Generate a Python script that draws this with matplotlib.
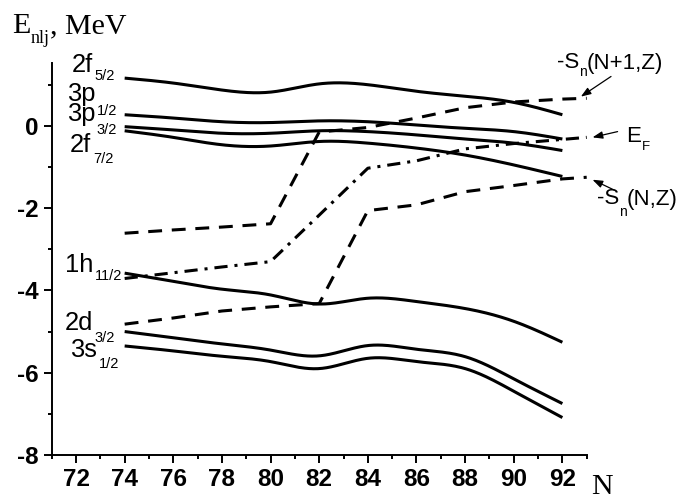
import numpy as np
import matplotlib
matplotlib.use("Agg")
import matplotlib.pyplot as plt

plt.rcParams["axes.unicode_minus"] = False
plt.rcParams["lines.scale_dashes"] = False

SANS = "Liberation Sans"
SERIF = "Liberation Serif"

# ---- single-particle levels (MeV) at even neutron numbers ----
N_levels = [74, 76, 78, 80, 82, 84, 86, 88, 90, 92]
e_2f52 = [1.16, 1.04, 0.87, 0.82, 1.02, 1.00, 0.84, 0.72, 0.57, 0.27]
e_3p12 = [0.27, 0.19, 0.10, 0.08, 0.12, 0.10, 0.02, -0.06, -0.14, -0.32]
e_3p32 = [-0.02, -0.10, -0.18, -0.18, -0.12, -0.14, -0.22, -0.32, -0.42, -0.60]
e_2f72 = [-0.12, -0.28, -0.46, -0.49, -0.38, -0.42, -0.54, -0.71, -0.95, -1.23]
e_1h112 = [-3.58, -3.78, -3.97, -4.11, -4.33, -4.19, -4.27, -4.44, -4.75, -5.26]
e_2d32 = [-5.00, -5.15, -5.30, -5.45, -5.59, -5.34, -5.43, -5.61, -6.15, -6.75]
e_3s12 = [-5.35, -5.47, -5.60, -5.73, -5.90, -5.65, -5.73, -5.90, -6.45, -7.09]

# ---- separation energies and Fermi energy ----
N_sep = [74, 76, 78, 80, 82, 84, 86, 88, 90, 92, 93]
sn_next = [-2.61, -2.53, -2.46, -2.38, -0.15, -0.04, 0.19, 0.44, 0.58, 0.65, 0.67]
e_fermi = [-3.71, -3.57, -3.43, -3.30, -2.17, -1.03, -0.85, -0.56, -0.43, -0.33, -0.28]
sn_this = [-4.82, -4.67, -4.50, -4.40, -4.32, -2.06, -1.92, -1.60, -1.45, -1.29, -1.25]

x_ticks = [72, 74, 76, 78, 80, 82, 84, 86, 88, 90, 92]
y_ticks = [-8, -6, -4, -2, 0]


def natural_spline(x, y, n=300):
    x = np.asarray(x, float)
    y = np.asarray(y, float)
    h = np.diff(x)
    m = len(x)
    A = np.zeros((m, m))
    r = np.zeros(m)
    A[0, 0] = A[-1, -1] = 1.0
    for i in range(1, m - 1):
        A[i, i - 1] = h[i - 1]
        A[i, i] = 2 * (h[i - 1] + h[i])
        A[i, i + 1] = h[i]
        r[i] = 3 * ((y[i + 1] - y[i]) / h[i] - (y[i] - y[i - 1]) / h[i - 1])
    c = np.linalg.solve(A, r)
    b = (y[1:] - y[:-1]) / h - h * (2 * c[:-1] + c[1:]) / 3
    d = (c[1:] - c[:-1]) / (3 * h)
    xs = np.linspace(x[0], x[-1], n)
    idx = np.clip(np.searchsorted(x, xs) - 1, 0, m - 2)
    dx = xs - x[idx]
    ys = y[idx] + b[idx] * dx + c[idx] * dx ** 2 + d[idx] * dx ** 3
    return xs, ys


W, H = 692, 499
fig = plt.figure(figsize=(W / 100, H / 100), dpi=100)
ax = fig.add_axes([51.7 / W, 1 - 455 / H, (586.7 - 51.7) / W, (455 - 63.3) / H])

lw = 2.2
for e in (e_2f52, e_3p12, e_3p32, e_2f72, e_1h112, e_2d32, e_3s12):
    xs, ys = natural_spline(N_levels, e)
    ax.plot(xs, ys, color="black", lw=lw, solid_capstyle="butt", clip_on=False)

dash = (0, (10, 7))
dashdot = (0, (9.5, 5, 2.2, 5))
ax.plot(N_sep, sn_next, color="black", lw=lw, linestyle=dash, clip_on=False)
ax.plot(N_sep, e_fermi, color="black", lw=lw, linestyle=dashdot, clip_on=False)
ax.plot(N_sep, sn_this, color="black", lw=lw, linestyle=dash, clip_on=False)

ax.set_xlim(71, 93)
ax.set_ylim(-8, 1.52)
for s in ("top", "right"):
    ax.spines[s].set_visible(False)
for s in ("left", "bottom"):
    ax.spines[s].set_linewidth(1.4)

ax.set_xticks(x_ticks)
ax.set_xticklabels([str(v) for v in x_ticks])
ax.set_xticks(np.arange(71, 94, 2), minor=True)
ax.set_yticks(y_ticks)
ax.set_yticklabels([str(v) for v in y_ticks])
ax.set_yticks([-7, -5, -3, -1, 1], minor=True)
ax.tick_params(which="major", direction="out", length=6, width=1.4, pad=3.5)
ax.tick_params(which="minor", direction="out", length=3, width=1.4)
for lab in ax.get_xticklabels() + ax.get_yticklabels():
    lab.set_fontfamily(SANS)
    lab.set_fontweight("bold")
    lab.set_fontsize(17.5)

renderer = fig.canvas.get_renderer()


def chain(x, pieces, family=SANS):
    """Lay out text pieces left to right; each piece is
    (text, size, baseline from top in px, gap before in px)."""
    for s, size, base, gap in pieces:
        x += gap
        t = fig.text(x / W, 1 - base / H, s, fontsize=size, family=family,
                     ha="left", va="baseline")
        x = t.get_window_extent(renderer).x1
    return x


# axis titles
chain(12, [("E", 21.6, 33, 0), ("nlj", 13, 43.3, 0.5), (", MeV", 21.6, 33, 0)],
      family=SERIF)
chain(591, [("N", 21.6, 494, 0)], family=SERIF)

# level labels: (main, subscript, x, main baseline, sub baseline)
level_labels = [
    ("2f", "5/2", 71.7, 71.7, 80.0),
    ("3p", "1/2", 66.7, 101.5, 114.5),
    ("3p", "3/2", 66.7, 121.0, 134.0),
    ("2f", "7/2", 70.0, 151.7, 163.3),
    ("1h", "11/2", 65.0, 271.7, 280.0),
    ("2d", "3/2", 65.0, 330.0, 341.7),
    ("3s", "1/2", 70.0, 356.7, 368.3),
]
for main, sub, x0, mb, sb in level_labels:
    chain(x0, [(main, 18.4, mb, 0), (sub, 10.5, sb, 1.5)])

# right-hand labels
chain(556.5, [("-S", 16, 68.5, 0), ("n", 10, 76.5, 0.3), ("(N+1,Z)", 16, 68.5, 0.3)])
chain(626.5, [("E", 16, 141.7, 0), ("F", 9.5, 150, 0.5)])
chain(596.5, [("-S", 16, 204.5, 0), ("n", 10, 216.5, 0.3), ("(N,Z)", 16, 204.5, 0.3)])

arrow_kw = dict(arrowstyle="-|>,head_length=0.6,head_width=0.22",
                color="black", lw=0.9, shrinkA=0, shrinkB=0)
for head, tail in [((92.76, 0.71), (94.0, 1.2)),
                   ((93.24, -0.28), (94.27, -0.14)),
                   ((93.24, -1.31), (94.13, -1.56))]:
    ax.annotate("", xy=head, xytext=tail, xycoords="data",
                arrowprops=arrow_kw, annotation_clip=False)

fig.savefig("out.png", dpi=100)
